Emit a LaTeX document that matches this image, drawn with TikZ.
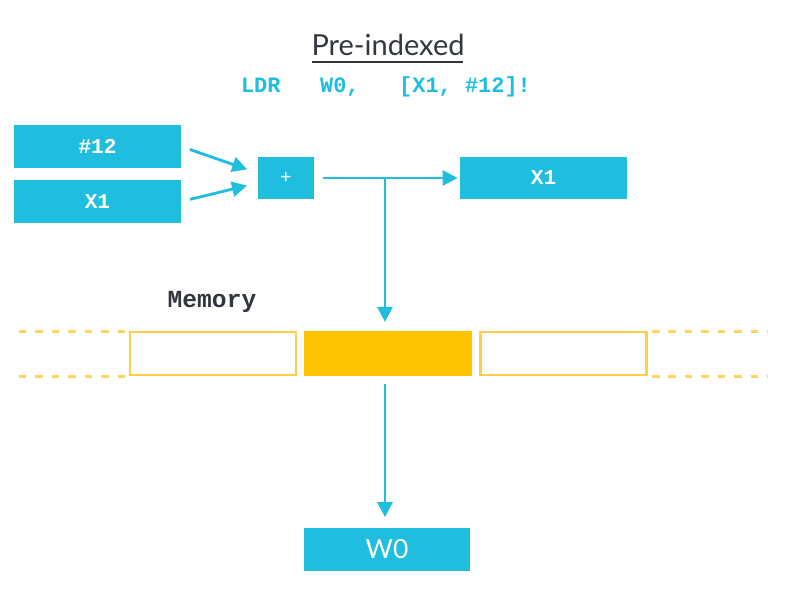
\documentclass[tikz,border=0pt]{standalone}
\usepackage{fontspec}
\setmainfont{Lato}
\setmonofont{Liberation Mono}
\usetikzlibrary{arrows.meta,positioning}

\definecolor{armcyan}{RGB}{32,190,222}
\definecolor{memfill}{RGB}{255,195,0}
\definecolor{memline}{RGB}{255,205,70}
\definecolor{memdash}{RGB}{255,212,95}
\definecolor{darktext}{RGB}{50,55,62}

\begin{document}
\begin{tikzpicture}[
        x=0.02cm, y=-0.02cm,
        reg/.style={rectangle, fill=armcyan, text=white, inner sep=0pt, minimum width=3.34cm, minimum height=0.86cm, font=\ttfamily\bfseries\fontsize{12}{14}\selectfont},
        cell/.style={rectangle, draw=memline, line width=1.2pt, minimum width=3.32cm, minimum height=0.86cm, inner sep=0pt},
        arrow/.style={-{Triangle[length=0.3cm, width=0.3cm]}, armcyan, line width=1.6pt},
        dots/.style={memdash, line width=1.7pt, dash pattern=on 0.15cm off 0.18cm}
    ]
        \useasboundingbox (0,0) rectangle (789,603);

        \node[text=darktext, font=\fontsize{16.5}{19}\selectfont] (title) at (388,45) {Pre-indexed};
        \draw[darktext, line width=1.2pt] (312,62) -- (463,62);
        \node[text=armcyan, font=\ttfamily\bfseries\fontsize{12.5}{14}\selectfont] (instr) at (386,87) {LDR\ \ \ W0,\ \ \ [X1, \#12]!};

        \node[reg] (imm) at (97.5,146.5) {\#12};
        \node[reg] (base) at (97.5,201.5) {X1};
        \node[reg, minimum width=1.12cm, minimum height=0.84cm, font=\ttfamily\fontsize{11}{13}\selectfont] (plus) at (286,178) {+};
        \node[reg, minimum height=0.84cm] (wb) at (543.5,178) {X1};

        \node[text=darktext, font=\ttfamily\bfseries\fontsize{14}{16}\selectfont] (memlabel) at (212,302) {Memory};
        \node[cell] (lcell) at (213,353.5) {};
        \node[cell, fill=memfill, draw=memfill] (mcell) at (388,353.5) {};
        \node[cell] (rcell) at (563.5,353.5) {};

        \node[reg, font=\fontsize{15}{18}\selectfont] (dest) at (387,549) {W0};

        % dashed memory edges
        \draw[dots] (125,331) -- (14,331);
        \draw[dots] (125,376) -- (14,376);
        \draw[dots] (652,331) -- (768,331);
        \draw[dots] (652,376) -- (768,376);

        % address calculation
        \draw[arrow, shorten <=0.18cm, shorten >=0.22cm] (imm.east) -- ([yshift=0.1cm]plus.west);
        \draw[arrow, shorten <=0.18cm, shorten >=0.22cm] (base.east) -- ([yshift=-0.1cm]plus.west);
        \draw[arrow, shorten <=0.18cm, shorten >=0.04cm] (plus.east) -- (wb.west);
        \coordinate (split) at (385,178);
        \draw[arrow, shorten >=0.18cm] (split) -- (split |- mcell.north);
        \draw[arrow, shorten <=0.16cm, shorten >=0.2cm] (split |- mcell.south) -- (split |- dest.north);
    \end{tikzpicture}
\end{document}
